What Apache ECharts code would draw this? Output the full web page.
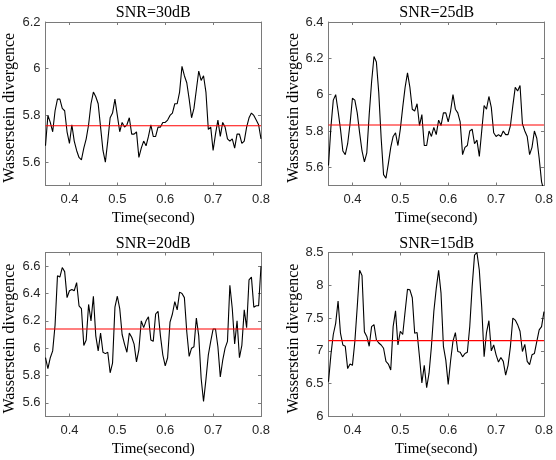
<!DOCTYPE html>
<html>
<head>
<meta charset="utf-8">
<script src="https://cdn.jsdelivr.net/npm/echarts@6/dist/echarts.min.js"></script>
<style>
  html, body { margin: 0; padding: 0; background: #fff; }
  #chart { width: 556px; height: 460px; }
</style>
</head>
<body>
<div id="chart"></div>
<script>
// Sampling grid of the divergence estimates (seconds)
const tStart = 0.35;
const tStep = 0.005;
const tEnd = 0.8;

// Panel titles
const panelTitles = ['SNR=30dB', 'SNR=25dB', 'SNR=20dB', 'SNR=15dB'];

// Axis tick labels
const timeTicks = [0.4, 0.5, 0.6, 0.7, 0.8];
const yTicks30 = [5.6, 5.8, 6.0, 6.2];
const yTicks25 = [5.6, 5.8, 6.0, 6.2, 6.4];
const yTicks20 = [5.6, 5.8, 6.0, 6.2, 6.4, 6.6];
const yTicks15 = [6, 6.5, 7, 7.5, 8, 8.5];

// Axis ranges
const yRange30 = [5.5, 6.2];
const yRange25 = [5.5, 6.4];
const yRange20 = [5.5, 6.7];
const yRange15 = [6, 8.5];

// Wasserstein divergence per SNR
const wd30 = [5.67, 5.80, 5.77, 5.73, 5.82, 5.87, 5.87, 5.83, 5.82, 5.73,
  5.68, 5.76, 5.69, 5.65, 5.62, 5.61, 5.66, 5.70, 5.76, 5.85,
  5.90, 5.88, 5.85, 5.75, 5.65, 5.60, 5.69, 5.79, 5.81, 5.87,
  5.80, 5.73, 5.77, 5.75, 5.76, 5.79, 5.72, 5.72, 5.73, 5.62,
  5.66, 5.69, 5.67, 5.71, 5.76, 5.71, 5.71, 5.75, 5.75, 5.77,
  5.77, 5.78, 5.80, 5.81, 5.85, 5.85, 5.90, 6.01, 5.97, 5.94,
  5.87, 5.79, 5.83, 5.91, 5.99, 5.95, 5.97, 5.90, 5.74, 5.75,
  5.65, 5.72, 5.78, 5.71, 5.77, 5.75, 5.70, 5.69, 5.70, 5.66,
  5.72, 5.72, 5.68, 5.69, 5.75, 5.79, 5.81, 5.80, 5.78, 5.76,
  5.70];
const wd25 = [5.61, 5.82, 5.97, 6.00, 5.91, 5.81, 5.69, 5.67, 5.73, 5.84,
  5.98, 5.97, 5.90, 5.79, 5.69, 5.63, 5.68, 5.89, 6.07, 6.21,
  6.18, 6.01, 5.76, 5.56, 5.54, 5.62, 5.71, 5.77, 5.79, 5.72,
  5.81, 5.93, 6.04, 6.12, 6.04, 5.92, 5.91, 5.95, 5.83, 5.89,
  5.72, 5.72, 5.80, 5.77, 5.82, 5.78, 5.86, 5.83, 5.90, 5.90,
  5.85, 5.91, 6.00, 5.92, 5.90, 5.85, 5.67, 5.71, 5.72, 5.80,
  5.81, 5.73, 5.75, 5.66, 5.80, 5.94, 5.92, 5.99, 5.93, 5.79,
  5.77, 5.78, 5.77, 5.80, 5.78, 5.78, 5.83, 5.94, 6.04, 6.02,
  6.05, 5.84, 5.80, 5.77, 5.67, 5.71, 5.80, 5.76, 5.65, 5.52,
  5.47];
const wd20 = [5.93, 5.85, 5.93, 5.98, 6.17, 6.53, 6.52, 6.59, 6.56, 6.37,
  6.42, 6.43, 6.42, 6.48, 6.31, 6.29, 6.02, 6.06, 6.32, 6.20,
  6.38, 6.09, 5.98, 6.11, 5.97, 5.96, 5.97, 5.82, 5.89, 6.30,
  6.38, 6.29, 6.10, 6.03, 5.97, 6.11, 6.08, 6.03, 5.90, 5.99,
  6.20, 6.15, 6.20, 6.23, 6.06, 6.05, 6.25, 6.27, 6.09, 5.95,
  5.87, 5.93, 6.19, 6.25, 6.34, 6.28, 6.41, 6.40, 6.37, 6.12,
  5.94, 6.00, 6.01, 6.22, 6.09, 5.78, 5.61, 5.77, 5.95, 6.05,
  6.14, 6.14, 6.01, 5.79, 5.91, 6.00, 6.05, 6.46, 6.29, 6.03,
  6.20, 5.93, 6.02, 6.28, 6.15, 6.50, 6.52, 6.30, 6.31, 6.31,
  6.60];
const wd15 = [6.53, 6.94, 7.25, 7.42, 7.76, 7.27, 7.09, 7.07, 6.73, 6.80,
  6.78, 7.14, 7.67, 8.23, 8.15, 7.29, 7.22, 7.07, 7.37, 7.40,
  7.17, 7.12, 7.09, 7.04, 6.84, 6.80, 6.71, 7.37, 7.61, 7.09,
  7.30, 7.25, 7.60, 7.94, 7.93, 7.81, 7.27, 7.28, 6.91, 6.51,
  6.78, 6.44, 6.66, 7.07, 7.60, 7.95, 8.23, 7.88, 7.07, 6.86,
  6.49, 6.85, 7.15, 7.28, 6.99, 6.98, 6.91, 6.96, 6.98, 7.37,
  7.98, 8.46, 8.50, 8.23, 7.67, 6.91, 7.28, 7.46, 7.00, 7.09,
  6.94, 6.83, 6.90, 6.84, 6.63, 6.78, 7.07, 7.50, 7.47, 7.40,
  7.30, 6.99, 7.10, 6.84, 6.79, 6.94, 6.96, 7.14, 7.32, 7.37,
  7.60];

// Mean divergence level drawn as the red reference line
const meanLevels = [5.756, 5.833, 6.14, 7.156];

const panels = [
  { title: panelTitles[0], values: wd30, ticks: yTicks30, range: yRange30, mean: meanLevels[0] },
  { title: panelTitles[1], values: wd25, ticks: yTicks25, range: yRange25, mean: meanLevels[1] },
  { title: panelTitles[2], values: wd20, ticks: yTicks20, range: yRange20, mean: meanLevels[2] },
  { title: panelTitles[3], values: wd15, ticks: yTicks15, range: yRange15, mean: meanLevels[3] }
];

const grids = [
  { left: 45.5, top: 22, width: 215.5, height: 163.5 },
  { left: 328.5, top: 22, width: 216.5, height: 163.5 },
  { left: 45.5, top: 252.5, width: 215.5, height: 164 },
  { left: 328.5, top: 252.5, width: 216.5, height: 164 }
];

const SERIF = '"Liberation Serif", "Times New Roman", serif';
const SANS = '"Liberation Sans", Arial, sans-serif';
const BOX = '#7a7a7a';
const LABEL = '#262626';

const fmt = v => String(+(+v).toFixed(2));

const xAxes = [], yAxes = [], series = [], graphics = [];

panels.forEach((p, k) => {
  const g = grids[k];
  const tickBase = { show: true, inside: true, length: 3, lineStyle: { color: BOX, width: 1 } };
  // bottom time axis
  xAxes.push({
    type: 'value', gridIndex: k, position: 'bottom',
    min: tStart, max: tEnd,
    name: 'Time(second)', nameLocation: 'middle', nameGap: 25,
    nameTextStyle: { fontFamily: SERIF, fontSize: 15, color: '#000' },
    axisLine: { show: true, onZero: false, lineStyle: { color: BOX, width: 1 } },
    axisTick: Object.assign({ customValues: timeTicks }, tickBase),
    axisLabel: { customValues: timeTicks, formatter: fmt, margin: 7,
      fontFamily: SANS, fontSize: 13, color: LABEL },
    splitLine: { show: false }
  });
  // top frame axis
  xAxes.push({
    type: 'value', gridIndex: k, position: 'top',
    min: tStart, max: tEnd,
    axisLine: { show: true, onZero: false, lineStyle: { color: BOX, width: 1 } },
    axisTick: Object.assign({ customValues: timeTicks }, tickBase),
    axisLabel: { show: false },
    splitLine: { show: false }
  });
  // left value axis
  yAxes.push({
    type: 'value', gridIndex: k, position: 'left',
    min: p.range[0], max: p.range[1],
    name: 'Wasserstein divergence', nameLocation: 'middle', nameRotate: 90,
    nameGap: k % 2 === 0 ? 28 : 25,
    nameTextStyle: { fontFamily: SERIF, fontSize: 16, color: '#000', padding: [0, 8, 0, 0] },
    axisLine: { show: true, onZero: false, lineStyle: { color: BOX, width: 1 } },
    axisTick: Object.assign({ customValues: p.ticks }, tickBase),
    axisLabel: { customValues: p.ticks, formatter: fmt, margin: 5,
      fontFamily: SANS, fontSize: 13, color: LABEL },
    splitLine: { show: false }
  });
  // right frame axis
  yAxes.push({
    type: 'value', gridIndex: k, position: 'right',
    min: p.range[0], max: p.range[1],
    axisLine: { show: true, onZero: false, lineStyle: { color: BOX, width: 1 } },
    axisTick: Object.assign({ customValues: p.ticks }, tickBase),
    axisLabel: { show: false },
    splitLine: { show: false }
  });

  // divergence trace
  series.push({
    type: 'line',
    xAxisIndex: 2 * k, yAxisIndex: 2 * k,
    data: p.values.map((v, i) => [+(tStart + i * tStep).toFixed(3), v]),
    showSymbol: false, symbol: 'none', smooth: false, clip: true,
    lineStyle: { color: '#000', width: 1.1 },
    itemStyle: { color: '#000' },
    z: 2
  });
  // mean level
  series.push({
    type: 'line',
    xAxisIndex: 2 * k, yAxisIndex: 2 * k,
    data: [[tStart, p.mean], [tEnd, p.mean]],
    showSymbol: false, symbol: 'none',
    lineStyle: { color: '#ff0000', width: 1.1 },
    itemStyle: { color: '#ff0000' },
    z: 3
  });

  graphics.push({
    type: 'text',
    x: g.left + g.width / 2,
    y: g.top - 9,
    style: {
      text: p.title, fill: '#000',
      font: '16px ' + SERIF,
      align: 'center', verticalAlign: 'middle'
    }
  });
});

const chart = echarts.init(document.getElementById('chart'), null, { renderer: 'canvas' });
chart.setOption({
  animation: false,
  backgroundColor: '#fff',
  grid: grids.map(g => Object.assign({ containLabel: false }, g)),
  xAxis: xAxes,
  yAxis: yAxes,
  series: series,
  graphic: graphics
});
</script>
</body>
</html>
